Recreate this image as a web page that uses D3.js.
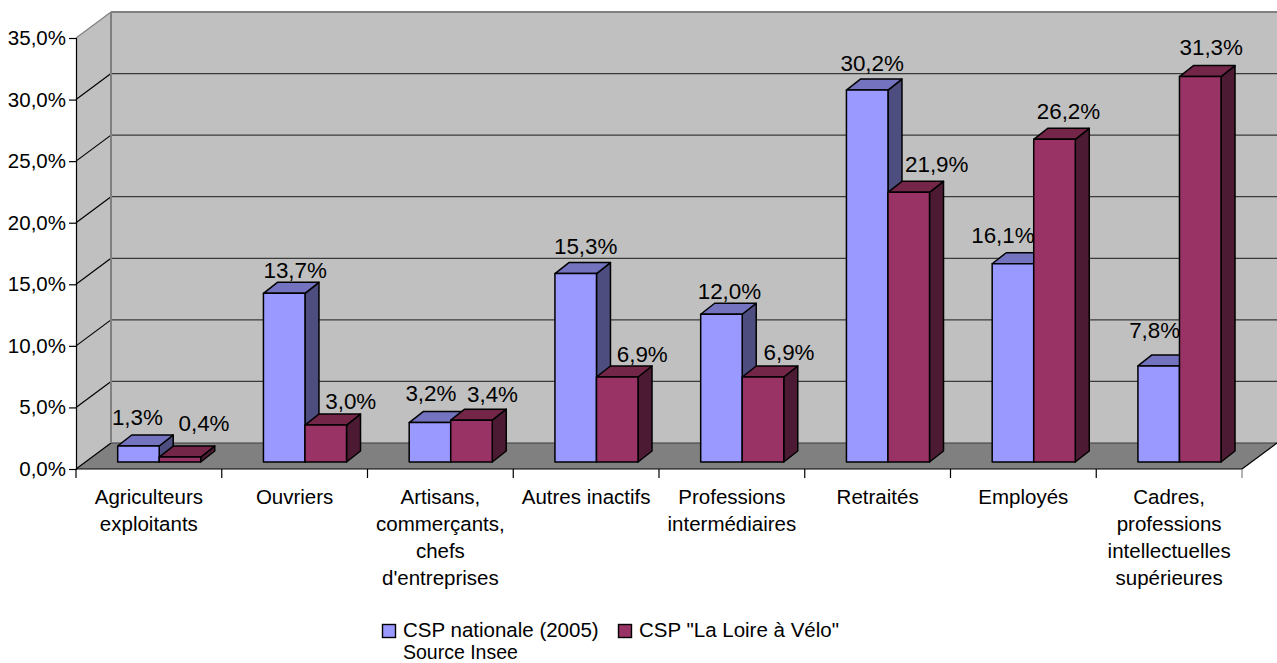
<!DOCTYPE html>
<html><head><meta charset="utf-8">
<style>html,body{margin:0;padding:0;background:#fff;overflow:hidden}svg{display:block}
text{font-family:"Liberation Sans",Arial,sans-serif;font-size:20.5px;fill:#000}
text.dl{font-size:22.4px}</style>
<script src="https://cdn.jsdelivr.net/npm/d3@7/dist/d3.min.js"></script></head><body>
<script>
const categories=[["Agriculteurs","exploitants"],["Ouvriers"],["Artisans,","commerçants,","chefs","d'entreprises"],["Autres inactifs"],["Professions","intermédiaires"],["Retraités"],["Employés"],["Cadres,","professions","intellectuelles","supérieures"]];
const seriesNames=['CSP nationale (2005)','CSP "La Loire à Vélo"'];
const national=[1.3,13.7,3.2,15.3,12.0,30.2,16.1,7.8];
const loire=[0.4,3.0,3.4,6.9,6.9,21.9,26.2,31.3];
const yTicks=[0,5,10,15,20,25,30,35];
const sourceNote="Source Insee";
// layout-only nudges for the data labels, relative to the bar's front face centre
const nudgeX=[[-1,24],[11,25],[1,21],[10,25],[8,26],[5,28],[-10,14],[-4,11]];
const nudgeY=[[-28,-34],[-23,-24],[-29,-26],[-27,-23],[-23,-25],[-27,-28],[-28,-28],[-35,-29]];

const W=1277,H=663;
const x0=76,x1=1242,yB=469,yT=38,wallDx=35,wallDy=26,barDx=14,barDy=11,floorInset=7;
const svg=d3.select("body").append("svg").attr("width",W).attr("height",H);
const x=d3.scaleBand().domain(d3.range(categories.length)).range([x0,x1]);
const y=d3.scaleLinear().domain([0,35]).range([yB,yT]);
const pts=a=>a.map(p=>p.join(",")).join(" ");
const wallStroke="#808080";

// walls
svg.append("polygon").attr("points",pts([[x0,yT],[x0+wallDx,yT-wallDy],[x0+wallDx,yB-wallDy],[x0,yB]])).attr("fill","#c0c0c0");
svg.append("rect").attr("x",x0+wallDx).attr("y",yT-wallDy).attr("width",x1-x0).attr("height",yB-yT).attr("fill","#c0c0c0");
svg.append("polygon").attr("points",pts([[x0,yB],[x1,yB],[x1+wallDx,yB-wallDy],[x0+wallDx,yB-wallDy]])).attr("fill","#808080");

// gridlines
yTicks.forEach(t=>{
  const c=t===35?wallStroke:"#000";
  svg.append("line").attr("x1",x0+wallDx).attr("x2",x1+wallDx).attr("y1",y(t)-wallDy).attr("y2",y(t)-wallDy)
    .attr("stroke",t===35?wallStroke:"#3a3a3a").attr("stroke-width",t===35?2:1.2);
  svg.append("line").attr("x1",x0).attr("x2",x0+wallDx).attr("y1",y(t)).attr("y2",y(t)-wallDy).attr("stroke",c).attr("stroke-width",1.2);
});
svg.append("line").attr("x1",x0+wallDx).attr("x2",x0+wallDx).attr("y1",yT-wallDy).attr("y2",yB-wallDy).attr("stroke",wallStroke).attr("stroke-width",2);
svg.append("line").attr("x1",x1).attr("x2",x1+wallDx).attr("y1",yB).attr("y2",yB-wallDy).attr("stroke","#000").attr("stroke-width",1.2);

// axes
const yAxis=svg.append("g").attr("transform",`translate(${x0},0)`)
  .call(d3.axisLeft(y).tickValues(yTicks).tickSize(7).tickPadding(3).tickFormat(d=>d.toFixed(1).replace(".",",")+"%"));
yAxis.selectAll("path").attr("stroke","#000").attr("stroke-width",1.2);
yAxis.selectAll("line").attr("stroke","#000").attr("stroke-width",1.2);
yAxis.selectAll("text").style("font-size","20.5px").style("font-family",'"Liberation Sans",Arial,sans-serif').attr("fill","#000");
svg.append("line").attr("x1",x0).attr("x2",x1).attr("y1",yB).attr("y2",yB).attr("stroke","#000").attr("stroke-width",1.2);
d3.range(categories.length+1).forEach(i=>{
  const px=i<categories.length?x(i):x1;
  svg.append("line").attr("x1",px).attr("x2",px).attr("y1",yB).attr("y2",yB+9).attr("stroke",i===categories.length?"#808080":"#000").attr("stroke-width",1.2);
});

// bars
const series=[{v:national,f:"#9999ff",t:"#7373bf",s:"#4d4d80"},{v:loire,f:"#993366",t:"#732648",s:"#4d1a33"}];
const barW=x.bandwidth()*0.285;
const base=yB-floorInset;
const yBar=v=>y(v)-floorInset;
categories.forEach((c,i)=>{
  series.forEach((s,k)=>{
    const l=x(i)+x.bandwidth()*0.286+k*barW, r=l+barW, t=yBar(s.v[i]);
    const g=svg.append("g").attr("stroke","#000").attr("stroke-width",1.5).attr("stroke-linejoin","round");
    g.append("polygon").attr("points",pts([[r,t],[r+barDx,t-barDy],[r+barDx,base-barDy],[r,base]])).attr("fill",s.s);
    g.append("polygon").attr("points",pts([[l,t],[l+barDx,t-barDy],[r+barDx,t-barDy],[r,t]])).attr("fill",s.t);
    g.append("rect").attr("x",l).attr("y",t).attr("width",barW).attr("height",base-t).attr("fill",s.f);
  });
});
// data labels, on top of all bars
categories.forEach((c,i)=>{
  series.forEach((s,k)=>{
    const l=x(i)+x.bandwidth()*0.286+k*barW;
    svg.append("text").attr("class","dl").attr("text-anchor","middle").attr("dominant-baseline","central")
      .attr("x",l+barW/2+nudgeX[i][k]).attr("y",yBar(s.v[i])+nudgeY[i][k])
      .text(s.v[i].toFixed(1).replace(".",",")+"%");
  });
});
// category labels
categories.forEach((lines,i)=>{
  const t=svg.append("text").attr("text-anchor","middle").attr("x",x(i)+x.bandwidth()/2).attr("y",504);
  lines.forEach((ln,j)=>t.append("tspan").attr("x",x(i)+x.bandwidth()/2).attr("y",504+j*27).text(ln));
});
// legend
const leg=[[382,403],[618,639]];
seriesNames.forEach((n,k)=>{
  svg.append("rect").attr("x",leg[k][0]+.5).attr("y",624.5).attr("width",13).attr("height",13).attr("fill",series[k].f).attr("stroke","#000").attr("stroke-width",1.4);
  svg.append("text").attr("x",leg[k][1]).attr("y",636.5).text(n);
});
svg.append("text").attr("x",403).attr("y",658.5).style("font-size","19.5px").text(sourceNote);
</script></body></html>
